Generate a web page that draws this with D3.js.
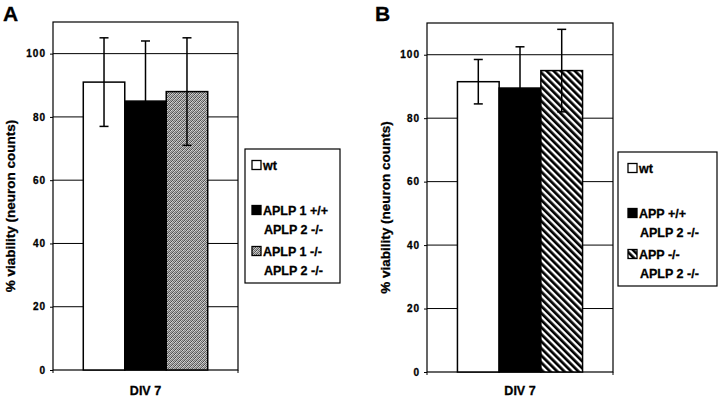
<!DOCTYPE html>
<html>
<head>
<meta charset="utf-8">
<script src="https://cdn.jsdelivr.net/npm/d3@7"></script>
<style>
  body { margin: 0; background: #fff; }
  svg { display: block; font-family: "Liberation Sans", Arial, sans-serif; font-weight: bold; }
  .heavy { stroke: #000; stroke-width: 0.3; }
</style>
</head>
<body>
<div id="chart"></div>
<script>
// values
const category = 'DIV 7';
const yTicks = [0, 20, 40, 60, 80, 100];
const seriesKeys = ['wt', 'ko1', 'dko'];

const meansA = [91, 85, 88];
const errorsA = [14, 19, 17];
const legendA = [['wt'], ['APLP 1 +/+', 'APLP 2 -/-'], ['APLP 1 -/-', 'APLP 2 -/-']];

const meansB = [91.5, 89.5, 95];
const errorsB = [7, 13, 13];
const legendB = [['wt'], ['APP +/+', 'APLP 2 -/-'], ['APP -/-', 'APLP 2 -/-']];

const svg = d3.select('#chart').append('svg')
    .attr('width', 720)
    .attr('height', 401);

const defs = svg.append('defs');

// stippled gray fill (dithered look)
const stipShades = [
  '#555', '#c8c8c8', '#777', '#b0b0b0',
  '#d0d0d0', '#666', '#bbb', '#4a4a4a',
  '#888', '#c0c0c0', '#505050', '#d8d8d8',
  '#aaa', '#606060', '#ccc', '#7a7a7a'
];
const stip = defs.append('pattern')
    .attr('id', 'stipple')
    .attr('patternUnits', 'userSpaceOnUse')
    .attr('width', 4).attr('height', 4);
stip.selectAll('rect')
    .data(stipShades)
  .join('rect')
    .attr('x', (d, i) => i % 4)
    .attr('y', (d, i) => Math.floor(i / 4))
    .attr('width', 1).attr('height', 1)
    .attr('fill', d => d);

// diagonal hatch
const hatch = defs.append('pattern')
    .attr('id', 'hatch')
    .attr('patternUnits', 'userSpaceOnUse')
    .attr('width', 5).attr('height', 5)
    .attr('patternTransform', 'rotate(-45)');
hatch.append('rect').attr('width', 5).attr('height', 5).attr('fill', '#fff');
hatch.append('rect').attr('width', 2.7).attr('height', 5).attr('fill', '#000');

function drawPanel(cfg) {
  const g = svg.append('g');
  const w = cfg.right - cfg.left;

  const y = d3.scaleLinear().domain([0, 110]).range([cfg.bottom, cfg.top]);
  const x0 = d3.scaleBand().domain([category]).range([cfg.left, cfg.right]);
  const x1 = d3.scaleBand().domain(seriesKeys)
      .range([x0(category), x0(category) + x0.bandwidth()])
      .paddingOuter(0.73);

  const fills = {wt: '#fff', ko1: '#000', dko: `url(#${cfg.pattern})`};

  // panel letter
  g.append('text')
      .attr('class', 'heavy')
      .attr('x', cfg.letterX).attr('y', 21)
      .attr('font-size', 21)
      .text(cfg.letter);

  // grid lines
  g.selectAll('.grid')
      .data(yTicks.filter(d => d > 0))
    .join('line')
      .attr('x1', cfg.left).attr('x2', cfg.right)
      .attr('y1', d => y(d)).attr('y2', d => y(d))
      .attr('stroke', '#000').attr('stroke-width', 1);

  // y axis
  const yAxis = g.append('g')
      .attr('transform', `translate(${cfg.left},0)`)
      .call(d3.axisLeft(y).tickValues(yTicks).tickSize(3).tickPadding(4));
  yAxis.select('.domain').remove();
  yAxis.selectAll('text')
      .attr('class', 'heavy')
      .attr('font-size', 10)
      .attr('font-family', '"Liberation Sans", Arial, sans-serif')
      .attr('font-weight', 'bold')
      .attr('letter-spacing', 1);

  // frame
  g.append('rect')
      .attr('x', cfg.left).attr('y', cfg.top)
      .attr('width', w).attr('height', cfg.bottom - cfg.top)
      .attr('fill', 'none').attr('stroke', '#000').attr('stroke-width', 1.2);

  // x axis end ticks
  g.selectAll('.xtick')
      .data([cfg.left, cfg.right])
    .join('line')
      .attr('x1', d => d).attr('x2', d => d)
      .attr('y1', cfg.bottom).attr('y2', cfg.bottom + 3)
      .attr('stroke', '#000');

  // bars
  g.selectAll('.bar')
      .data(cfg.means)
    .join('rect')
      .attr('x', (d, i) => x1(seriesKeys[i]))
      .attr('y', d => y(d))
      .attr('width', x1.bandwidth())
      .attr('height', d => cfg.bottom - y(d))
      .attr('fill', (d, i) => fills[seriesKeys[i]])
      .attr('stroke', '#000').attr('stroke-width', 1.5);

  // error bars
  const cap = 4.5;
  cfg.means.forEach((m, i) => {
    const cx = x1(seriesKeys[i]) + x1.bandwidth() / 2;
    const e = cfg.errors[i];
    const eb = g.append('g').attr('stroke', '#000').attr('stroke-width', 1.5);
    eb.append('line').attr('x1', cx).attr('x2', cx).attr('y1', y(m + e)).attr('y2', y(m - e));
    eb.append('line').attr('x1', cx - cap).attr('x2', cx + cap).attr('y1', y(m + e)).attr('y2', y(m + e));
    eb.append('line').attr('x1', cx - cap).attr('x2', cx + cap).attr('y1', y(m - e)).attr('y2', y(m - e));
  });

  // x label
  g.append('text')
      .attr('class', 'heavy')
      .attr('x', x0(category) + x0.bandwidth() / 2)
      .attr('y', 395)
      .attr('text-anchor', 'middle')
      .attr('font-size', 12.5)
      .text(category);

  // y label
  g.append('text')
      .attr('class', 'heavy')
      .attr('transform', `translate(${cfg.yLabelX},${(cfg.top + cfg.bottom) / 2 + 10}) rotate(-90)`)
      .attr('text-anchor', 'middle')
      .attr('font-size', 13.5)
      .text('% viability (neuron counts)');

  // legend
  const lg = g.append('g').attr('transform', `translate(${cfg.legX},${cfg.legY})`);
  lg.append('rect')
      .attr('width', cfg.legW).attr('height', 134)
      .attr('fill', '#fff').attr('stroke', '#000').attr('stroke-width', 1.2);
  const rowY = [16, 61, 102];
  cfg.legend.forEach((lines, i) => {
    lg.append('rect')
        .attr('x', cfg.swX).attr('y', rowY[i] - 4.5)
        .attr('width', 9).attr('height', 9)
        .attr('fill', fills[seriesKeys[i]])
        .attr('stroke', '#000').attr('stroke-width', 1.3);
    lines.forEach((t, j) => {
      lg.append('text')
          .attr('class', 'heavy')
          .attr('x', cfg.swX + 11 + (j > 0 ? 1 : 0))
          .attr('y', rowY[i] + j * 19)
          .attr('dy', '0.36em')
          .attr('font-size', 12.5)
          .text(t);
    });
  });
}

drawPanel({
  letter: 'A', letterX: 3,
  left: 53, right: 238, top: 22, bottom: 370,
  means: meansA, errors: errorsA, legend: legendA, pattern: 'stipple',
  yLabelX: 15, legX: 245, legY: 149, legW: 95, swX: 7
});

drawPanel({
  letter: 'B', letterX: 375,
  left: 427, right: 613, top: 23, bottom: 372,
  means: meansB, errors: errorsB, legend: legendB, pattern: 'hatch',
  yLabelX: 390, legX: 618, legY: 152, legW: 99, swX: 10
});
</script>
</body>
</html>
